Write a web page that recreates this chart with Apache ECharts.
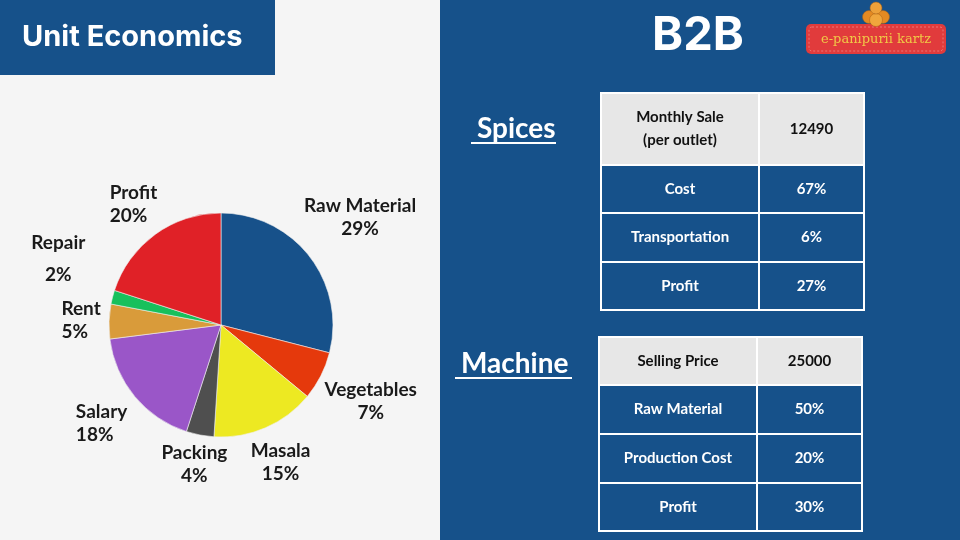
<!DOCTYPE html>
<html>
<head>
<meta charset="utf-8">
<script src="https://cdn.jsdelivr.net/npm/echarts@6/dist/echarts.min.js"></script>
<style>
  html, body { margin: 0; padding: 0; background: #f5f5f5; }
  #main { width: 960px; height: 540px; }
</style>
</head>
<body>
<div id="main"></div>
<script>
// pie data (unit economics)
var categories = ['Raw Material', 'Vegetables', 'Masala', 'Packing', 'Salary', 'Rent', 'Repair', 'Profit'];
var shares = [29, 7, 15, 4, 18, 5, 2, 20];
var sliceColors = ['#17518a', '#e5390c', '#ede922', '#4f4f4f', '#9a56c8', '#d99b3a', '#17c05c', '#e02127'];
// how far each label sits out from the pie edge
var labelReach = [64, 56, 38, 30, 43, 28, 56, 37];
// labels that are left aligned in the original slide
var leftAligned = ['Salary', 'Rent', 'Profit'];

// B2B tables
var spicesLabels = ['Monthly Sale\n(per outlet)', 'Cost', 'Transportation', 'Profit'];
var spicesValues = ['12490', '67%', '6%', '27%'];
var machineLabels = ['Selling Price', 'Raw Material', 'Production Cost', 'Profit'];
var machineValues = ['25000', '50%', '20%', '30%'];

var BLUE = '#16518a';
var FONT = 'Lato, "Open Sans", sans-serif';

function buildTable(labels, values, x0, xMid, x1, rowYs) {
    var els = [];
    for (var i = 0; i < labels.length; i++) {
        var y = rowYs[i], h = rowYs[i + 1] - rowYs[i];
        var head = i === 0;
        var fill = head ? '#e7e7e7' : BLUE;
        var txt = head ? '#111111' : '#ffffff';
        els.push({ type: 'rect', shape: { x: x0, y: y, width: xMid - x0, height: h },
            style: { fill: fill, stroke: '#ffffff', lineWidth: 2 } });
        els.push({ type: 'rect', shape: { x: xMid, y: y, width: x1 - xMid, height: h },
            style: { fill: fill, stroke: '#ffffff', lineWidth: 2 } });
        els.push({ type: 'text', x: (x0 + xMid) / 2, y: y + h / 2,
            style: { text: labels[i], fill: txt, font: 'bold 15px ' + FONT, align: 'center', verticalAlign: 'middle', lineHeight: 23 } });
        els.push({ type: 'text', x: (xMid + x1) / 2, y: y + h / 2,
            style: { text: values[i], fill: txt, font: 'bold 15px ' + FONT, align: 'center', verticalAlign: 'middle' } });
    }
    return els;
}

var graphics = [
    { type: 'rect', z: -10, shape: { x: 440, y: 0, width: 520, height: 540 }, style: { fill: BLUE } },
    { type: 'rect', shape: { x: 0, y: 0, width: 275, height: 75 }, style: { fill: BLUE } },
    { type: 'text', x: 22, y: 37, style: { text: 'Unit Economics', fill: '#fff', font: 'bold 29px Inter, sans-serif', verticalAlign: 'middle' } },
    { type: 'text', x: 698, y: 36, style: { text: 'B2B', fill: '#fff', font: 'bold 47px Inter, sans-serif', align: 'center', verticalAlign: 'middle' } },
    // logo
    { type: 'rect', shape: { x: 806, y: 24, width: 140, height: 30, r: 5 }, style: { fill: '#e13b3c' } },
    { type: 'rect', shape: { x: 809, y: 27, width: 134, height: 24, r: 3 }, style: { fill: 'none', stroke: '#f3a0a0', lineWidth: 0.6, lineDash: [2, 2] } },
    { type: 'text', x: 876, y: 40, style: { text: 'e-panipurii kartz', fill: '#f0c846', font: '13px "DejaVu Serif", serif', align: 'center', verticalAlign: 'middle' } },
    { type: 'circle', shape: { cx: 869, cy: 17, r: 6.5 }, style: { fill: '#e48a22', stroke: '#a85e12', lineWidth: 0.5 } },
    { type: 'circle', shape: { cx: 883, cy: 17, r: 6.5 }, style: { fill: '#e48a22', stroke: '#a85e12', lineWidth: 0.5 } },
    { type: 'circle', shape: { cx: 876, cy: 20, r: 6.5 }, style: { fill: '#f0a63c', stroke: '#a85e12', lineWidth: 0.5 } },
    { type: 'circle', shape: { cx: 876, cy: 8, r: 6 }, style: { fill: '#eda13a', stroke: '#a85e12', lineWidth: 0.5 } },
    // section titles
    { type: 'text', x: 477, y: 129, style: { text: 'Spices', fill: '#fff', font: 'bold 28px ' + FONT, verticalAlign: 'middle' } },
    { type: 'line', shape: { x1: 471, y1: 143, x2: 556, y2: 143 }, style: { stroke: '#fff', lineWidth: 2 } },
    { type: 'text', x: 461, y: 364, style: { text: 'Machine', fill: '#fff', font: 'bold 28px ' + FONT, verticalAlign: 'middle' } },
    { type: 'line', shape: { x1: 455, y1: 378, x2: 572, y2: 378 }, style: { stroke: '#fff', lineWidth: 2 } }
];
graphics = graphics.concat(buildTable(spicesLabels, spicesValues, 601, 759, 864, [93, 165, 213, 262, 310]));
graphics = graphics.concat(buildTable(machineLabels, machineValues, 599, 757, 862, [337, 385, 434, 483, 531]));

var myChart = echarts.init(document.getElementById('main'));

var option = {
    backgroundColor: '#f5f5f5',
    animation: false,
    graphic: graphics,
    series: [{
        type: 'pie',
        center: [221, 325],
        radius: 112,
        startAngle: 90,
        avoidLabelOverlap: false,
        silent: true,
        itemStyle: { borderColor: '#f0f0f0', borderWidth: 0.6 },
        label: {
            show: true,
            position: 'outside',
            color: '#1a1a1a',
            fontFamily: FONT,
            fontWeight: 'bold',
            fontSize: 19,
            lineHeight: 23,
            formatter: function (p) {
                return p.name + (p.name === 'Repair' ? '\n\n' : '\n') + p.value + '%';
            }
        },
        labelLine: { show: true, length2: 0, lineStyle: { opacity: 0 } },
        labelLayout: function (p) {
            var pts = p.labelLinePoints;
            if (!pts) return {};
            var e = pts[pts.length - 1];
            var name = categories[p.dataIndex];
            var dy = name === 'Repair' ? -24 : 0;
            if (leftAligned.indexOf(name) >= 0) {
                return { x: e[0] - p.labelRect.width / 2, y: e[1] + dy, align: 'left', verticalAlign: 'middle' };
            }
            return { x: e[0], y: e[1] + dy, align: 'center', verticalAlign: 'middle' };
        },
        data: categories.map(function (c, i) {
            return {
                name: c, value: shares[i],
                itemStyle: { color: sliceColors[i] },
                labelLine: { length: labelReach[i] },
                label: c === 'Repair' ? { lineHeight: 16 } : {}
            };
        })
    }]
};

myChart.setOption(option);
</script>
</body>
</html>
